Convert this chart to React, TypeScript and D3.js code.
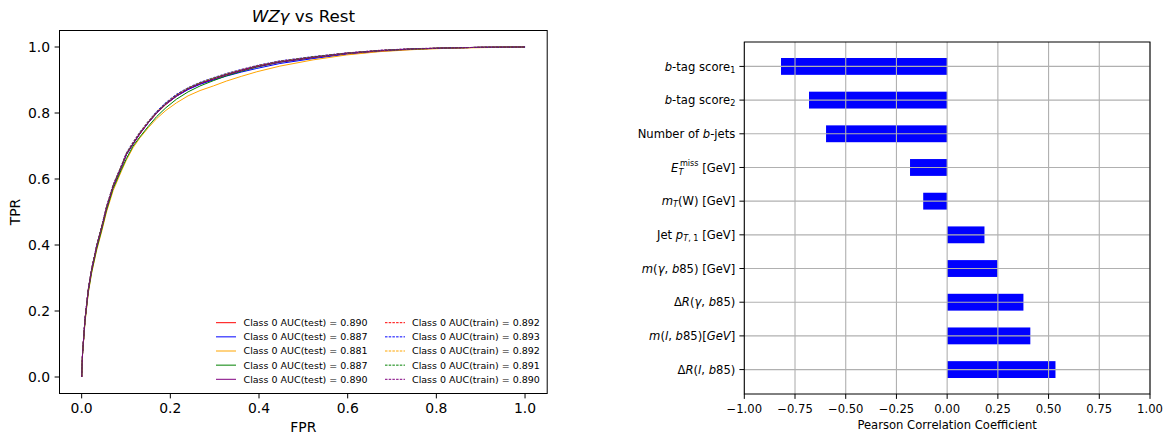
import React from "react";
import * as d3 from "d3";

// ---------- ROC data ----------
const fprGrid = [0, 0.002, 0.0075, 0.015, 0.0225, 0.034, 0.045, 0.056, 0.071, 0.09, 0.101, 0.116, 0.131, 0.15, 0.169, 0.19, 0.214, 0.24, 0.267, 0.297, 0.327, 0.36, 0.395, 0.447, 0.522, 0.598, 0.673, 0.748, 0.823, 0.898, 1.0];

const tprTestRed = [0, 0.072, 0.173, 0.264, 0.324, 0.395, 0.452, 0.511, 0.577, 0.637, 0.675, 0.706, 0.736, 0.77, 0.799, 0.826, 0.851, 0.872, 0.888, 0.902, 0.916, 0.929, 0.941, 0.955, 0.969, 0.981, 0.989, 0.994, 0.997, 0.999, 1.0];
const tprTestBlue = [0, 0.072, 0.174, 0.265, 0.325, 0.396, 0.452, 0.512, 0.578, 0.638, 0.674, 0.706, 0.737, 0.77, 0.8, 0.827, 0.851, 0.871, 0.887, 0.9, 0.912, 0.924, 0.935, 0.95, 0.965, 0.978, 0.987, 0.993, 0.997, 0.999, 1.0];
const tprTestOrange = [0, 0.068, 0.165, 0.255, 0.315, 0.385, 0.44, 0.5, 0.565, 0.625, 0.658, 0.695, 0.724, 0.755, 0.783, 0.808, 0.831, 0.852, 0.868, 0.882, 0.897, 0.911, 0.925, 0.942, 0.961, 0.976, 0.986, 0.992, 0.996, 0.998, 1.0];
const tprTestGreen = [0, 0.07, 0.168, 0.258, 0.318, 0.389, 0.445, 0.505, 0.571, 0.63, 0.662, 0.7, 0.727, 0.759, 0.789, 0.816, 0.842, 0.864, 0.882, 0.898, 0.913, 0.926, 0.939, 0.954, 0.968, 0.981, 0.989, 0.994, 0.997, 0.999, 1.0];
const tprTestPurple = [0, 0.071, 0.172, 0.264, 0.325, 0.396, 0.452, 0.512, 0.578, 0.638, 0.674, 0.707, 0.737, 0.771, 0.8, 0.827, 0.852, 0.873, 0.889, 0.903, 0.916, 0.928, 0.94, 0.954, 0.968, 0.98, 0.988, 0.994, 0.997, 0.999, 1.0];

const tprTrainRed = [0, 0.073, 0.175, 0.266, 0.327, 0.398, 0.455, 0.515, 0.581, 0.641, 0.678, 0.71, 0.74, 0.773, 0.803, 0.83, 0.855, 0.875, 0.891, 0.905, 0.918, 0.931, 0.943, 0.957, 0.97, 0.982, 0.99, 0.995, 0.997, 0.999, 1.0];
const tprTrainBlue = [0, 0.074, 0.176, 0.268, 0.329, 0.4, 0.457, 0.517, 0.583, 0.643, 0.68, 0.712, 0.742, 0.775, 0.805, 0.832, 0.857, 0.877, 0.893, 0.907, 0.92, 0.932, 0.944, 0.958, 0.971, 0.982, 0.99, 0.995, 0.997, 0.999, 1.0];
const tprTrainOrange = [0, 0.073, 0.175, 0.267, 0.328, 0.399, 0.455, 0.516, 0.582, 0.642, 0.678, 0.711, 0.741, 0.774, 0.803, 0.83, 0.855, 0.876, 0.892, 0.906, 0.919, 0.931, 0.943, 0.957, 0.97, 0.981, 0.989, 0.994, 0.997, 0.999, 1.0];
const tprTrainGreen = [0, 0.072, 0.174, 0.266, 0.327, 0.398, 0.454, 0.514, 0.58, 0.64, 0.677, 0.709, 0.739, 0.772, 0.802, 0.829, 0.854, 0.875, 0.891, 0.905, 0.918, 0.93, 0.942, 0.956, 0.97, 0.981, 0.989, 0.994, 0.997, 0.999, 1.0];
const tprTrainPurple = [0, 0.072, 0.174, 0.265, 0.326, 0.397, 0.453, 0.513, 0.579, 0.639, 0.676, 0.708, 0.738, 0.771, 0.801, 0.828, 0.853, 0.874, 0.89, 0.904, 0.917, 0.93, 0.942, 0.956, 0.969, 0.981, 0.989, 0.994, 0.997, 0.999, 1.0];

const curveColors = ["red", "blue", "orange", "green", "purple"];
const testCurves = [tprTestRed, tprTestBlue, tprTestOrange, tprTestGreen, tprTestPurple];
const trainCurves = [tprTrainRed, tprTrainBlue, tprTrainOrange, tprTrainGreen, tprTrainPurple];
const testAUC = ["0.890", "0.887", "0.881", "0.887", "0.890"];
const trainAUC = ["0.892", "0.893", "0.892", "0.891", "0.890"];
const rocTicks = [0, 0.2, 0.4, 0.6, 0.8, 1.0];

// ---------- Correlation data (bottom to top) ----------
const corrKeys = ["dRlb", "mlb", "dRgb", "mgb", "jetpt", "mtw", "met", "nbjets", "btag2", "btag1"];
const corrValues = [0.534, 0.41, 0.376, 0.248, 0.184, -0.118, -0.183, -0.597, -0.681, -0.819];
const corrTicks = [-1, -0.75, -0.5, -0.25, 0, 0.25, 0.5, 0.75, 1];

const FONT = "DejaVu Sans";
const it = { fontStyle: "italic" as const };

function CorrLabel({ k }: { k: string }) {
  const sub = (t: string) => (
    <tspan baselineShift="-25%" fontSize="0.7em">{t}</tspan>
  );
  switch (k) {
    case "btag1":
      return (<><tspan {...it}>b</tspan>-tag score{sub("1")}</>);
    case "btag2":
      return (<><tspan {...it}>b</tspan>-tag score{sub("2")}</>);
    case "nbjets":
      return (<>Number of <tspan {...it}>b</tspan>-jets</>);
    case "met":
      return (<><tspan {...it}>E</tspan><tspan {...it} dy="3" fontSize="0.7em">T</tspan><tspan dx="-3.5" dy="-8.5" fontSize="0.7em">miss</tspan><tspan dy="5.5"> [GeV]</tspan></>);
    case "mtw":
      return (<><tspan {...it}>m</tspan><tspan {...it} baselineShift="-25%" fontSize="0.7em">T</tspan>(W) [GeV]</>);
    case "jetpt":
      return (<>Jet <tspan {...it}>p</tspan><tspan baselineShift="-25%" fontSize="0.7em"><tspan {...it}>T</tspan>, 1</tspan> [GeV]</>);
    case "mgb":
      return (<><tspan {...it}>m</tspan>(<tspan {...it}>γ</tspan>, <tspan {...it}>b</tspan>85) [GeV]</>);
    case "dRgb":
      return (<>Δ<tspan {...it}>R</tspan>(<tspan {...it}>γ</tspan>, <tspan {...it}>b</tspan>85)</>);
    case "mlb":
      return (<><tspan {...it}>m</tspan>(<tspan {...it}>l</tspan>, <tspan {...it}>b</tspan>85)[<tspan {...it}>GeV</tspan>]</>);
    case "dRlb":
      return (<>Δ<tspan {...it}>R</tspan>(<tspan {...it}>l</tspan>, <tspan {...it}>b</tspan>85)</>);
  }
  return null;
}

export default function App() {
  // Left ROC axes
  const L = { x0: 59.5, x1: 547.2, y0: 30.5, y1: 393.5 };
  const xr = d3.scaleLinear().domain([-0.05, 1.05]).range([L.x0, L.x1]);
  const yr = d3.scaleLinear().domain([-0.05, 1.05]).range([L.y1, L.y0]);
  const line = d3.line<number>().x((_, i) => xr(fprGrid[i])).y((d) => yr(d));
  const fmt1 = d3.format(".1f");

  // Right correlation axes
  const R = { x0: 744.3, x1: 1150, y0: 42, y1: 394 };
  const xc = d3.scaleLinear().domain([-1, 1]).range([R.x0, R.x1]);
  const yc = d3.scaleLinear().domain([-0.725, 9.725]).range([R.y1, R.y0]);
  const fmt2 = d3.format(".2f");
  const barH = 0.5;

  const lfs = 13.9;
  const rfs = 11.6;

  return (
    <svg width={1172} height={434} style={{ position: "absolute", left: 0, top: 0, background: "#fff" }} fontFamily={FONT}>
      <rect width={1172} height={434} fill="#fff" />
      {/* ---------- Left: ROC ---------- */}
      <text x={(L.x0 + L.x1) / 2} y={22} textAnchor="middle" fontSize={16.7}>
        <tspan {...it}>WZγ</tspan> vs Rest
      </text>
      <g>
        {testCurves.map((c, i) => (
          <path key={"t" + i} d={line(c) || ""} fill="none" stroke={curveColors[i]} strokeWidth={1} />
        ))}
        {trainCurves.map((c, i) => (
          <path key={"r" + i} d={line(c) || ""} fill="none" stroke={curveColors[i]} strokeWidth={1} strokeDasharray="2.5,1.2" />
        ))}
      </g>
      <rect x={L.x0} y={L.y0} width={L.x1 - L.x0} height={L.y1 - L.y0} fill="none" stroke="#000" strokeWidth={1} />
      {rocTicks.map((t) => (
        <g key={"xt" + t}>
          <line x1={xr(t)} x2={xr(t)} y1={L.y1} y2={L.y1 + 4.9} stroke="#000" strokeWidth={1} />
          <text x={xr(t)} y={L.y1 + 19} textAnchor="middle" fontSize={lfs}>{fmt1(t)}</text>
        </g>
      ))}
      {rocTicks.map((t) => (
        <g key={"yt" + t}>
          <line x1={L.x0 - 4.9} x2={L.x0} y1={yr(t)} y2={yr(t)} stroke="#000" strokeWidth={1} />
          <text x={L.x0 - 9.5} y={yr(t) + 5} textAnchor="end" fontSize={lfs}>{fmt1(t)}</text>
        </g>
      ))}
      <text x={(L.x0 + L.x1) / 2} y={432} textAnchor="middle" fontSize={lfs}>FPR</text>
      <text transform={`translate(20,${(L.y0 + L.y1) / 2}) rotate(-90)`} textAnchor="middle" fontSize={lfs}>TPR</text>
      {/* legend */}
      {curveColors.map((c, i) => (
        <g key={"lg" + i}>
          <line x1={216} x2={236} y1={322.7 + i * 14.15} y2={322.7 + i * 14.15} stroke={c} strokeWidth={1} />
          <text x={243.5} y={322.7 + i * 14.15 + 3.4} fontSize={9.5}>{`Class 0 AUC(test) = ${testAUC[i]}`}</text>
          <line x1={385} x2={405} y1={322.7 + i * 14.15} y2={322.7 + i * 14.15} stroke={c} strokeWidth={1} strokeDasharray="2.5,1.2" />
          <text x={412} y={322.7 + i * 14.15 + 3.4} fontSize={9.5}>{`Class 0 AUC(train) = ${trainAUC[i]}`}</text>
        </g>
      ))}

      {/* ---------- Right: correlation ---------- */}
      {corrValues.map((v, i) => (
        <rect key={"b" + i} x={xc(Math.min(0, v))} y={yc(i + barH / 2)} width={Math.abs(xc(v) - xc(0))} height={yc(i - barH / 2) - yc(i + barH / 2)} fill="#0000ff" />
      ))}
      {corrTicks.map((t) => (
        <line key={"gv" + t} x1={xc(t)} x2={xc(t)} y1={R.y0} y2={R.y1} stroke="#b0b0b0" strokeWidth={1.1} />
      ))}
      {corrKeys.map((k, i) => (
        <line key={"gh" + k} x1={R.x0} x2={R.x1} y1={yc(i)} y2={yc(i)} stroke="#b0b0b0" strokeWidth={1.1} />
      ))}
      <rect x={R.x0} y={R.y0} width={R.x1 - R.x0} height={R.y1 - R.y0} fill="none" stroke="#000" strokeWidth={1} />
      {corrTicks.map((t) => (
        <g key={"cx" + t}>
          <line x1={xc(t)} x2={xc(t)} y1={R.y1} y2={R.y1 + 4.9} stroke="#000" strokeWidth={1} />
          <text x={xc(t)} y={R.y1 + 18.5} textAnchor="middle" fontSize={rfs}>{fmt2(t)}</text>
        </g>
      ))}
      {corrKeys.map((k, i) => (
        <g key={"cy" + k}>
          <line x1={R.x0 - 4.9} x2={R.x0} y1={yc(i)} y2={yc(i)} stroke="#000" strokeWidth={1} />
          <text x={R.x0 - 9} y={yc(i) + 4.2} textAnchor="end" fontSize={rfs}><CorrLabel k={k} /></text>
        </g>
      ))}
      <text x={(R.x0 + R.x1) / 2} y={429} textAnchor="middle" fontSize={rfs}>Pearson Correlation Coefficient</text>
    </svg>
  );
}
